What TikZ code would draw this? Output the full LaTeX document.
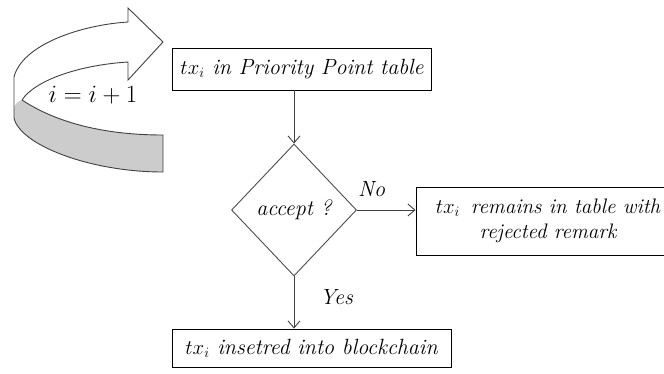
\documentclass[tikz,border=0pt]{standalone}
\usepackage{amsmath}
\usetikzlibrary{shapes.geometric}
\usetikzlibrary{arrows.meta}

\begin{document}
\begin{tikzpicture}[x=1pt,y=-1pt,
	kader/.style={draw,line width=0.9pt,inner sep=2pt,font=\fontsize{22}{25}\selectfont\itshape,align=center},
	ruit/.style={draw=black!70,line width=0.9pt,diamond,minimum width=125pt,minimum height=132pt,inner sep=0pt,font=\fontsize{22}{25}\selectfont\itshape},
	pijl/.style={-{Straight Barb[length=7pt,width=12pt]},draw=black!75,line width=0.9pt},
	lbl/.style={text=black,font=\fontsize{22}{25}\selectfont\itshape}]
		\useasboundingbox (0,0) rectangle (664,373);
		% lus-pijl links
		\fill[black!20] (22,100) .. controls (60,125) and (110,135) .. (163,135) -- (163,172) .. controls (90,172) and (20,145) .. (14,118) -- (14,108) .. controls (15,104) and (18,101) .. (22,100);
		\draw[black!75,line width=0.9pt] (22,100) .. controls (60,125) and (110,135) .. (163,135) -- (163,172) .. controls (90,172) and (20,145) .. (14,118);
		\draw[black!75,line width=0.9pt] (14,118) -- (14,77) .. controls (22,45) and (80,25) .. (128,22) -- (128,8) -- (163,42) -- (128,80) -- (128,62) .. controls (80,65) and (35,80) .. (22,100);
		\node[font=\fontsize{23}{25}\selectfont] (teller) at (93,95) {$i=i+1$};
		\node[kader,minimum width=259pt,minimum height=42pt] (top) at (302,69) {$tx_i$ in Priority Point table};
		\node[ruit] (dia) at (294,210) {accept ?};
		\node[kader,font=\fontsize{21}{25}\selectfont\itshape,minimum width=264pt,minimum height=68pt] (rechts) at (548,221) {$tx_i$\, remains in table with\\rejected remark};
		\node[kader,minimum width=279pt,minimum height=38pt] (onder) at (311.5,348) {$tx_i$ insetred into blockchain};
		\draw[pijl] (dia.north |- top.south) -- (dia.north);
		\draw[pijl] (dia.east) -- node[lbl,pos=0.25,above=10pt] (nee) {No} (dia.east -| rechts.west);
		\draw[pijl] (dia.south) -- node[lbl,pos=0.4,right=22pt] (ja) {Yes} (dia.south |- onder.north);
	\end{tikzpicture}
\end{document}
